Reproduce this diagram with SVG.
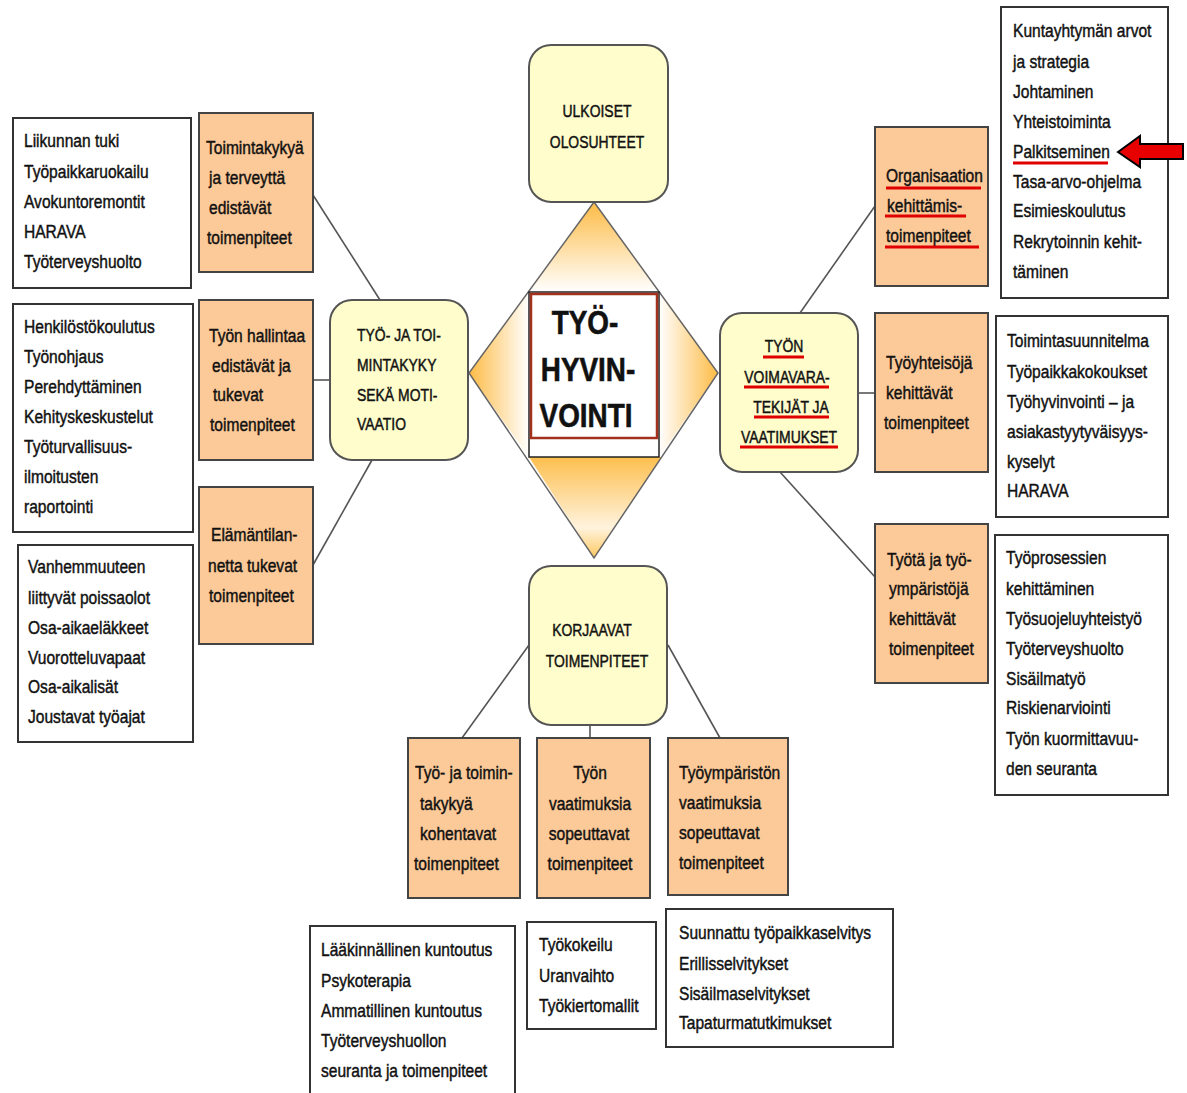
<svg xmlns="http://www.w3.org/2000/svg" width="1187" height="1093" viewBox="0 0 1187 1093">
  <style>
    text { font-family: "Liberation Sans", Arial, sans-serif; fill: #111; stroke: #111; stroke-width: 0.45; }
    .t { font-size: 19px; }
    .cap { font-size: 17px; }
    .mid { text-anchor: middle; }
    .big { font-size: 34px; font-weight: bold; text-anchor: middle; stroke-width: 0.6; }
    .wb { fill: #fff; stroke: #333; stroke-width: 2; }
    .ob { fill: #FCC998; stroke: #444; stroke-width: 2; }
    .yb { fill: #FFFDCB; stroke: #555; stroke-width: 2; }
    .conn line { stroke: #555; stroke-width: 1.6; }
    .ul { stroke: #E00000; stroke-width: 3; }
  </style>
  <defs>
    <linearGradient id="gTop" gradientUnits="userSpaceOnUse" x1="0" y1="202" x2="0" y2="292">
      <stop offset="0" stop-color="#FDBB45"/>
      <stop offset="1" stop-color="#FFFFFF"/>
    </linearGradient>
    <linearGradient id="gBot" gradientUnits="userSpaceOnUse" x1="0" y1="457" x2="0" y2="558">
      <stop offset="0" stop-color="#FDBF4E"/>
      <stop offset="0.7" stop-color="#FFF3DE"/>
      <stop offset="1" stop-color="#FDC860"/>
    </linearGradient>
    <linearGradient id="gLeft" gradientUnits="userSpaceOnUse" x1="469" y1="0" x2="529" y2="0">
      <stop offset="0" stop-color="#FDBB45"/>
      <stop offset="1" stop-color="#FFFFFF"/>
    </linearGradient>
    <linearGradient id="gRight" gradientUnits="userSpaceOnUse" x1="718" y1="0" x2="659" y2="0">
      <stop offset="0" stop-color="#FDBB45"/>
      <stop offset="1" stop-color="#FFFFFF"/>
    </linearGradient>
  </defs>

  <rect width="1187" height="1093" fill="#fff"/>

  <!-- connectors -->
  <g id="connectors" class="conn">
    <line x1="313" y1="195" x2="380" y2="300"/>
    <line x1="313" y1="380" x2="330" y2="380"/>
    <line x1="313" y1="565" x2="372" y2="460"/>
    <line x1="800" y1="313" x2="875" y2="206"/>
    <line x1="858" y1="393" x2="875" y2="393"/>
    <line x1="780" y1="472" x2="875" y2="577"/>
    <line x1="529" y1="645" x2="462" y2="738"/>
    <line x1="590" y1="725" x2="590" y2="738"/>
    <line x1="668" y1="645" x2="720" y2="738"/>
  </g>

  <!-- centre: diamond with the main title -->
  <g id="center">
    <polygon points="594,202 718,373 594,558 469,373" fill="#fff"/>
    <polygon points="594,202 659,292 529,292" fill="url(#gTop)"/>
    <polygon points="529,457 662,457 594,558" fill="url(#gBot)"/>
    <polygon points="469,373 529,290 529,457" fill="url(#gLeft)"/>
    <polygon points="718,373 659,290 659,457" fill="url(#gRight)"/>
    <polygon points="594,202 718,373 594,558 469,373" fill="none" stroke="#666" stroke-width="1.5"/>
    <rect x="529" y="292" width="130" height="165" fill="#fff" stroke="#222" stroke-width="1.5"/>
    <rect x="531" y="294" width="126" height="144" fill="none" stroke="#A2321C" stroke-width="2.5"/>
    <text class="big" transform="matrix(.82 0 0 1 585 334)">TYÖ-</text>
    <text class="big" transform="matrix(.82 0 0 1 588 381)">HYVIN-</text>
    <text class="big" transform="matrix(.82 0 0 1 586 427)">VOINTI</text>
  </g>

  <!-- yellow theme nodes -->
  <g id="ulkoiset">
    <rect class="yb" x="529" y="45" width="139" height="157" rx="22"/>
    <text class="cap mid" transform="matrix(.82 0 0 1 597 117)">ULKOISET</text>
    <text class="cap mid" transform="matrix(.82 0 0 1 597 148)">OLOSUHTEET</text>
  </g>
  <g id="tyo-ja-toimintakyky">
    <rect class="yb" x="330" y="300" width="138" height="160" rx="22"/>
    <text class="cap" transform="matrix(.82 0 0 1 357 341)">TYÖ- JA TOI-</text>
    <text class="cap" transform="matrix(.82 0 0 1 357 371)">MINTAKYKY</text>
    <text class="cap" transform="matrix(.82 0 0 1 357 401)">SEKÄ MOTI-</text>
    <text class="cap" transform="matrix(.82 0 0 1 357 430)">VAATIO</text>
  </g>
  <g id="tyon-voimavarat">
    <rect class="yb" x="720" y="313" width="138" height="159" rx="22"/>
    <text class="cap mid" transform="matrix(.82 0 0 1 784 352)">TYÖN</text>
    <text class="cap mid" transform="matrix(.82 0 0 1 787 383)">VOIMAVARA-</text>
    <text class="cap mid" transform="matrix(.82 0 0 1 791 413)">TEKIJÄT JA</text>
    <text class="cap mid" transform="matrix(.82 0 0 1 789 443)">VAATIMUKSET</text>
    <line class="ul" x1="763" y1="357" x2="804" y2="357"/>
    <line class="ul" x1="744" y1="387" x2="829" y2="387"/>
    <line class="ul" x1="754" y1="417" x2="829" y2="417"/>
    <line class="ul" x1="740" y1="447" x2="838" y2="447"/>
  </g>
  <g id="korjaavat">
    <rect class="yb" x="529" y="566" width="138" height="159" rx="22"/>
    <text class="cap mid" transform="matrix(.82 0 0 1 592 636)">KORJAAVAT</text>
    <text class="cap mid" transform="matrix(.82 0 0 1 597 667)">TOIMENPITEET</text>
  </g>

  <!-- left orange nodes -->
  <g id="toimintakykya">
    <rect class="ob" x="199" y="113" width="114" height="159"/>
    <text class="t" transform="matrix(.82 0 0 1 206 154)">Toimintakykyä</text>
    <text class="t" transform="matrix(.82 0 0 1 209 184)">ja terveyttä</text>
    <text class="t" transform="matrix(.82 0 0 1 209 214)">edistävät</text>
    <text class="t" transform="matrix(.82 0 0 1 207 244)">toimenpiteet</text>
  </g>
  <g id="tyon-hallintaa">
    <rect class="ob" x="199" y="300" width="114" height="160"/>
    <text class="t" transform="matrix(.82 0 0 1 209 342)">Työn hallintaa</text>
    <text class="t" transform="matrix(.82 0 0 1 212 372)">edistävät ja</text>
    <text class="t" transform="matrix(.82 0 0 1 213 401)">tukevat</text>
    <text class="t" transform="matrix(.82 0 0 1 210 431)">toimenpiteet</text>
  </g>
  <g id="elamantilannetta">
    <rect class="ob" x="199" y="487" width="114" height="157"/>
    <text class="t" transform="matrix(.82 0 0 1 211 541)">Elämäntilan-</text>
    <text class="t" transform="matrix(.82 0 0 1 208 572)">netta tukevat</text>
    <text class="t" transform="matrix(.82 0 0 1 209 602)">toimenpiteet</text>
  </g>

  <!-- left lists -->
  <g id="list-toimintakyky">
    <rect class="wb" x="13" y="118" width="178" height="170"/>
    <text class="t" transform="matrix(.82 0 0 1 24 147)">Liikunnan tuki</text>
    <text class="t" transform="matrix(.82 0 0 1 24 178)">Työpaikkaruokailu</text>
    <text class="t" transform="matrix(.82 0 0 1 24 208)">Avokuntoremontit</text>
    <text class="t" transform="matrix(.82 0 0 1 24 238)">HARAVA</text>
    <text class="t" transform="matrix(.82 0 0 1 24 268)">Työterveyshuolto</text>
  </g>
  <g id="list-hallinta">
    <rect class="wb" x="13" y="304" width="180" height="228"/>
    <text class="t" transform="matrix(.82 0 0 1 24 333)">Henkilöstökoulutus</text>
    <text class="t" transform="matrix(.82 0 0 1 24 363)">Työnohjaus</text>
    <text class="t" transform="matrix(.82 0 0 1 24 393)">Perehdyttäminen</text>
    <text class="t" transform="matrix(.82 0 0 1 24 423)">Kehityskeskustelut</text>
    <text class="t" transform="matrix(.82 0 0 1 24 453)">Työturvallisuus-</text>
    <text class="t" transform="matrix(.82 0 0 1 24 483)">ilmoitusten</text>
    <text class="t" transform="matrix(.82 0 0 1 24 513)">raportointi</text>
  </g>
  <g id="list-elamantilanne">
    <rect class="wb" x="18" y="545" width="175" height="197"/>
    <text class="t" transform="matrix(.82 0 0 1 28 573)">Vanhemmuuteen</text>
    <text class="t" transform="matrix(.82 0 0 1 28 604)">liittyvät  poissaolot</text>
    <text class="t" transform="matrix(.82 0 0 1 28 634)">Osa-aikaeläkkeet</text>
    <text class="t" transform="matrix(.82 0 0 1 28 664)">Vuorotteluvapaat</text>
    <text class="t" transform="matrix(.82 0 0 1 28 693)">Osa-aikalisät</text>
    <text class="t" transform="matrix(.82 0 0 1 28 723)">Joustavat työajat</text>
  </g>

  <!-- right orange nodes -->
  <g id="organisaatio">
    <rect class="ob" x="875" y="127" width="113" height="159"/>
    <text class="t" transform="matrix(.82 0 0 1 886 182)">Organisaation</text>
    <text class="t" transform="matrix(.82 0 0 1 887 212)">kehittämis-</text>
    <text class="t" transform="matrix(.82 0 0 1 886 242)">toimenpiteet</text>
    <line class="ul" x1="886" y1="188" x2="981" y2="188"/>
    <line class="ul" x1="885" y1="216" x2="966" y2="216"/>
    <line class="ul" x1="885" y1="247" x2="979" y2="247"/>
  </g>
  <g id="tyoyhteisoja">
    <rect class="ob" x="875" y="313" width="113" height="159"/>
    <text class="t" transform="matrix(.82 0 0 1 886 369)">Työyhteisöjä</text>
    <text class="t" transform="matrix(.82 0 0 1 886 399)">kehittävät</text>
    <text class="t" transform="matrix(.82 0 0 1 884 429)">toimenpiteet</text>
  </g>
  <g id="tyota-ja-tyoymparistoja">
    <rect class="ob" x="875" y="524" width="113" height="159"/>
    <text class="t" transform="matrix(.82 0 0 1 887 566)">Työtä ja työ-</text>
    <text class="t" transform="matrix(.82 0 0 1 889 595)">ympäristöjä</text>
    <text class="t" transform="matrix(.82 0 0 1 889 625)">kehittävät</text>
    <text class="t" transform="matrix(.82 0 0 1 889 655)">toimenpiteet</text>
  </g>

  <!-- right lists -->
  <g id="list-organisaatio">
    <rect class="wb" x="1001" y="7" width="167" height="291"/>
    <text class="t" transform="matrix(.82 0 0 1 1013 37)">Kuntayhtymän arvot</text>
    <text class="t" transform="matrix(.82 0 0 1 1013 68)">ja strategia</text>
    <text class="t" transform="matrix(.82 0 0 1 1013 98)">Johtaminen</text>
    <text class="t" transform="matrix(.82 0 0 1 1013 128)">Yhteistoiminta</text>
    <text class="t" transform="matrix(.82 0 0 1 1013 158)">Palkitseminen</text>
    <text class="t" transform="matrix(.82 0 0 1 1013 188)">Tasa-arvo-ohjelma</text>
    <text class="t" transform="matrix(.82 0 0 1 1013 217)">Esimieskoulutus</text>
    <text class="t" transform="matrix(.82 0 0 1 1013 248)">Rekrytoinnin kehit-</text>
    <text class="t" transform="matrix(.82 0 0 1 1013 278)">täminen</text>
    <line class="ul" x1="1013" y1="163" x2="1108" y2="163"/>
  </g>
  <g id="pointer">
    <polygon points="1118,152 1140,136 1140,144 1183,144 1183,159 1140,159 1140,167" fill="#E80000" stroke="#000" stroke-width="2" stroke-linejoin="miter"/>
  </g>
  <g id="list-tyoyhteiso">
    <rect class="wb" x="996" y="316" width="172" height="201"/>
    <text class="t" transform="matrix(.82 0 0 1 1007 347)">Toimintasuunnitelma</text>
    <text class="t" transform="matrix(.82 0 0 1 1007 378)">Työpaikkakokoukset</text>
    <text class="t" transform="matrix(.82 0 0 1 1007 408)">Työhyvinvointi – ja</text>
    <text class="t" transform="matrix(.82 0 0 1 1007 438)">asiakastyytyväisyys-</text>
    <text class="t" transform="matrix(.82 0 0 1 1007 468)">kyselyt</text>
    <text class="t" transform="matrix(.82 0 0 1 1007 497)">HARAVA</text>
  </g>
  <g id="list-tyoymparisto">
    <rect class="wb" x="995" y="535" width="173" height="260"/>
    <text class="t" transform="matrix(.82 0 0 1 1006 564)">Työprosessien</text>
    <text class="t" transform="matrix(.82 0 0 1 1006 595)">kehittäminen</text>
    <text class="t" transform="matrix(.82 0 0 1 1006 625)">Työsuojeluyhteistyö</text>
    <text class="t" transform="matrix(.82 0 0 1 1006 655)">Työterveyshuolto</text>
    <text class="t" transform="matrix(.82 0 0 1 1006 685)">Sisäilmatyö</text>
    <text class="t" transform="matrix(.82 0 0 1 1006 714)">Riskienarviointi</text>
    <text class="t" transform="matrix(.82 0 0 1 1006 745)">Työn kuormittavuu-</text>
    <text class="t" transform="matrix(.82 0 0 1 1006 775)">den seuranta</text>
  </g>

  <!-- bottom orange nodes -->
  <g id="tyo-ja-toimintakykya">
    <rect class="ob" x="408" y="738" width="112" height="160"/>
    <text class="t" transform="matrix(.82 0 0 1 415 779)">Työ- ja toimin-</text>
    <text class="t" transform="matrix(.82 0 0 1 420 810)">takykyä</text>
    <text class="t" transform="matrix(.82 0 0 1 420 840)">kohentavat</text>
    <text class="t" transform="matrix(.82 0 0 1 414 870)">toimenpiteet</text>
  </g>
  <g id="tyon-vaatimuksia">
    <rect class="ob" x="537" y="738" width="113" height="160"/>
    <text class="t mid" transform="matrix(.82 0 0 1 590 779)">Työn</text>
    <text class="t mid" transform="matrix(.82 0 0 1 590 810)">vaatimuksia</text>
    <text class="t mid" transform="matrix(.82 0 0 1 589 840)">sopeuttavat</text>
    <text class="t mid" transform="matrix(.82 0 0 1 590 870)">toimenpiteet</text>
  </g>
  <g id="tyoympariston-vaatimuksia">
    <rect class="ob" x="668" y="738" width="120" height="157"/>
    <text class="t" transform="matrix(.82 0 0 1 679 779)">Työympäristön</text>
    <text class="t" transform="matrix(.82 0 0 1 679 809)">vaatimuksia</text>
    <text class="t" transform="matrix(.82 0 0 1 679 839)">sopeuttavat</text>
    <text class="t" transform="matrix(.82 0 0 1 679 869)">toimenpiteet</text>
  </g>

  <!-- bottom lists -->
  <g id="list-kuntoutus">
    <rect class="wb" x="310" y="926" width="205" height="180"/>
    <text class="t" transform="matrix(.82 0 0 1 321 956)">Lääkinnällinen  kuntoutus</text>
    <text class="t" transform="matrix(.82 0 0 1 321 987)">Psykoterapia</text>
    <text class="t" transform="matrix(.82 0 0 1 321 1017)">Ammatillinen  kuntoutus</text>
    <text class="t" transform="matrix(.82 0 0 1 321 1047)">Työterveyshuollon</text>
    <text class="t" transform="matrix(.82 0 0 1 321 1077)">seuranta ja toimenpiteet</text>
  </g>
  <g id="list-tyokokeilu">
    <rect class="wb" x="527" y="922" width="129" height="107"/>
    <text class="t" transform="matrix(.82 0 0 1 539 951)">Työkokeilu</text>
    <text class="t" transform="matrix(.82 0 0 1 539 982)">Uranvaihto</text>
    <text class="t" transform="matrix(.82 0 0 1 539 1012)">Työkiertomallit</text>
  </g>
  <g id="list-selvitykset">
    <rect class="wb" x="666" y="909" width="227" height="138"/>
    <text class="t" transform="matrix(.82 0 0 1 679 939)">Suunnattu työpaikkaselvitys</text>
    <text class="t" transform="matrix(.82 0 0 1 679 970)">Erillisselvitykset</text>
    <text class="t" transform="matrix(.82 0 0 1 679 1000)">Sisäilmaselvitykset</text>
    <text class="t" transform="matrix(.82 0 0 1 679 1029)">Tapaturmatutkimukset</text>
  </g>
</svg>
